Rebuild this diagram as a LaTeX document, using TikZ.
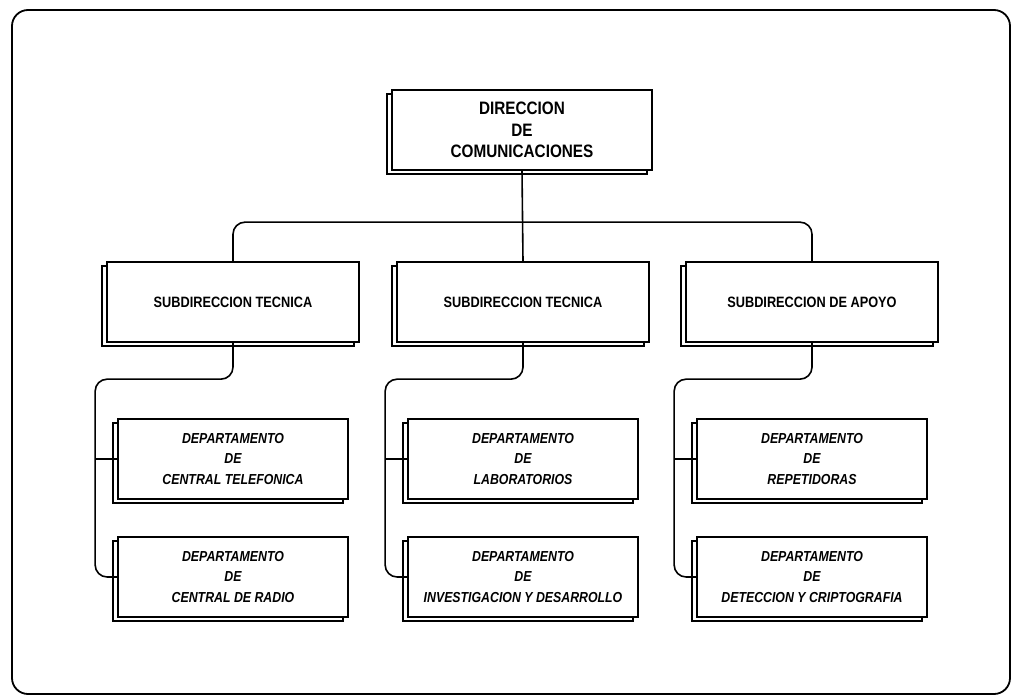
\documentclass[tikz,border=0pt]{standalone}
\usepackage{fontspec}
\newfontfamily\plotfont[FakeStretch=0.85]{Liberation Sans}
\usetikzlibrary{shadows,calc}
\tikzset{
  box/.style={draw=black, fill=white, line width=1.7pt, rectangle, inner sep=0pt,
    align=center, text=black,
    general shadow={shadow xshift=-5pt, shadow yshift=-4pt, draw=black, fill=white, line width=1.7pt}},
  topbox/.style={box, minimum width=260pt, minimum height=80pt,
    font=\plotfont\bfseries\fontsize{18}{21.5}\selectfont},
  subbox/.style={box, minimum width=252pt, minimum height=80pt,
    font=\plotfont\bfseries\fontsize{15}{18}\selectfont},
  deptbox/.style={box, minimum width=230pt, minimum height=80pt,
    font=\plotfont\bfseries\itshape\fontsize{14.5}{20.5}\selectfont},
  conn/.style={draw=black, line width=1.6pt, rounded corners=12pt},
  frame/.style={draw=black, line width=1.8pt, rounded corners=16pt}
}
\begin{document}
\begin{tikzpicture}[x=1pt,y=-1pt]
\useasboundingbox (0,0) rectangle (1020,698);
\draw[frame] (12,10) rectangle (1010,694);

\node[topbox] (top) at (522,130) {DIRECCION\\DE\\COMUNICACIONES};

\node[subbox] (s1) at (233,302) {SUBDIRECCION TECNICA};
\node[subbox] (s2) at (523,302) {SUBDIRECCION TECNICA};
\node[subbox] (s3) at (812,302) {SUBDIRECCION DE APOYO};

\node[deptbox] (d11) at (233,459) {DEPARTAMENTO\\DE\\CENTRAL TELEFONICA};
\node[deptbox] (d12) at (233,577) {DEPARTAMENTO\\DE\\CENTRAL DE RADIO};
\node[deptbox] (d21) at (523,459) {DEPARTAMENTO\\DE\\LABORATORIOS};
\node[deptbox] (d22) at (523,577) {DEPARTAMENTO\\DE\\INVESTIGACION Y DESARROLLO};
\node[deptbox] (d31) at (812,459) {DEPARTAMENTO\\DE\\REPETIDORAS};
\node[deptbox] (d32) at (812,577) {DEPARTAMENTO\\DE\\DETECCION Y CRIPTOGRAFIA};

% top to sub-directions
\draw[conn] (top.south) -- (s2.north);
\draw[conn] (s1.north) -- ++(0,-39) -| (s3.north);

% sub-directions to departments
\foreach \s/\a/\b in {s1/d11/d12, s2/d21/d22, s3/d31/d32}{
  \draw[conn] (\s.south) |- ($(\a.north west)+(-22,-39)$) |- (\b.west);
  \draw[conn] (\a.west) -- ++(-22,0);
}
\end{tikzpicture}
\end{document}
